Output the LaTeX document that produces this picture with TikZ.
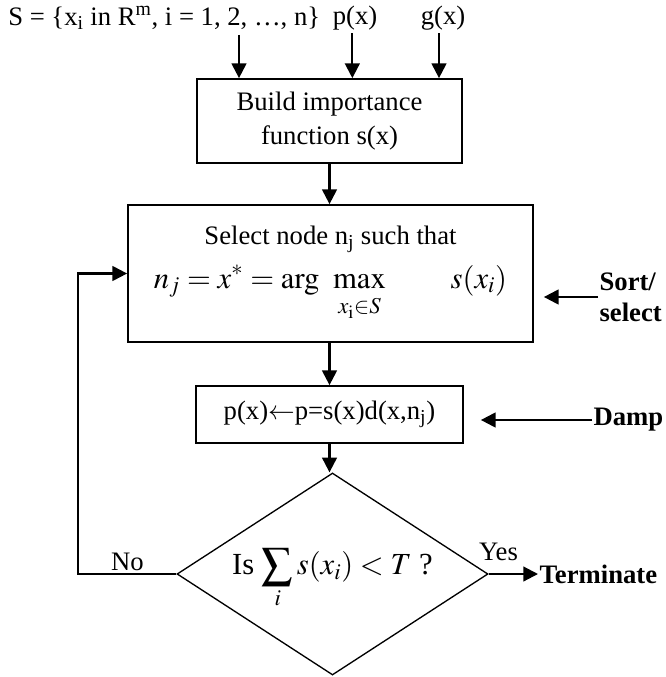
\documentclass[tikz,border=0pt]{standalone}
\usepackage{mathptmx}
\usepackage{fontspec}
\setmainfont{Liberation Serif}
\usepackage{tikz}
\usetikzlibrary{
  arrows.meta,
  positioning,
  shapes.geometric,
}
\newcommand{\fmsize}{\fontsize{23}{28}\selectfont}
\tikzset{
  >={Triangle[length=11pt,width=11pt]},
  font=\fontsize{20}{25}\selectfont,
  arr/.style={->, line width=1.6pt},
  procbox/.style={
    draw,
    line width=1.3pt,
    align=center,
    inner sep=0pt,
  },
  decision/.style={
    shape=diamond,
    draw,
    line width=1pt,
    aspect=1.54,
    inner sep=0pt,
  },
  sidelabel/.style={font=\fontsize{20}{23}\selectfont\bfseries, align=left, inner sep=1pt, anchor=west},
  inlabel/.style={inner sep=2pt},
}

\begin{document}
\begin{tikzpicture}[x=0.75pt,y=-0.75pt]
  \useasboundingbox (0,0) rectangle (666,677);

  % inputs on top
  \node[anchor=west, inner sep=0pt] (sset) at (8,18) {S = \{x\textsubscript{i} in R\textsuperscript{m}, i = 1, 2, \dots, n\}};
  \node[inlabel] (px) at (355,18) {p(x)};
  \node[inlabel] (gx) at (443,18) {g(x)};
  \coordinate (sarr) at (239,35);

  % main chain
  \node[procbox, minimum width=198.75pt, minimum height=63pt] (build) at (329.5,121) {Build importance\\function s(x)};
  \node[procbox, minimum width=303.75pt, minimum height=102.75pt] (sel) at (330.5,273.5) {%
    Select node n\textsubscript{j} such that\\[8pt]
    {\fmsize$\displaystyle n_j = x^{*} = \arg\;\,\max_{\rule{0pt}{15pt}x_{\mathrm{i}}\in S}\qquad s(x_i)$}};
  \node[procbox, minimum width=200.25pt, minimum height=42.75pt] (upd) at (329.5,414.5) {p(x)$\leftarrow$p=s(x)d(x,n\textsubscript{j})};
  \node[decision, minimum width=233.25pt, minimum height=151.5pt] (dec) at (332.5,574) {%
    {\fmsize\rule{0pt}{27pt}Is $\displaystyle\sum_i s(x_i) < T$ ?}};

  % side inputs
  \node[sidelabel] (sort) at (598,297) {Sort/\\select};
  \node[sidelabel] (damp) at (592,420) {Damp};
  \node[sidelabel] (term) at (538,574) {Terminate};

  \draw[arr] (sarr) -- (sarr |- build.north);
  \draw[arr] ([xshift=-2pt]px.south) -- ([xshift=-2pt]px.south |- build.north);
  \draw[arr] ([xshift=-3pt]gx.south) -- ([xshift=-3pt]gx.south |- build.north);
  \draw[arr] (build) -- (build |- sel.north);
  \draw[arr] (sel.south -| upd) -- (upd.north);
  \draw[arr] (upd.south) -- (upd.south |- dec.north);
  \draw[arr, shorten >=7.5pt] (sort.west) -- (sort.west -| sel.east);
  \draw[arr, shorten >=12.75pt] (damp.west) -- (damp.west -| upd.east);
  \draw[arr] (dec.east) -- node[inlabel, above=7pt, pos=0.2] (yes) {Yes} (term.west);
  \draw[arr] (dec.west) -- node[inlabel, above] (no) {No} ++(-98,0) |- (sel.west);
\end{tikzpicture}
\end{document}
